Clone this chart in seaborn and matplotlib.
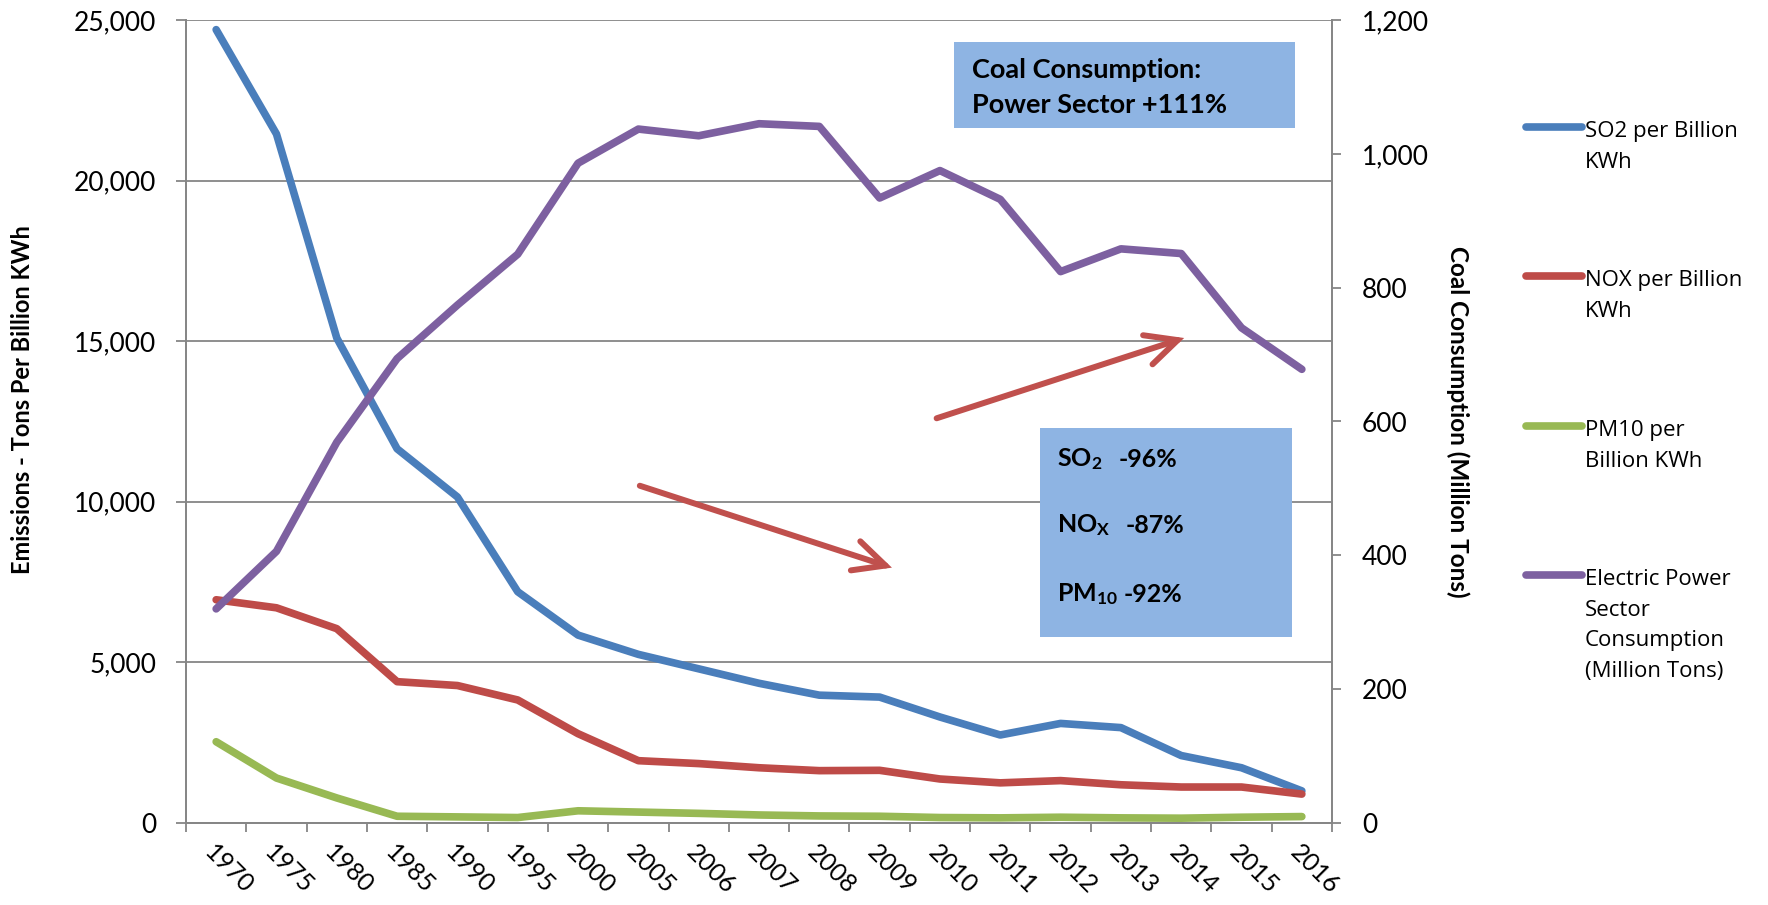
import matplotlib

matplotlib.use("Agg")
import matplotlib.pyplot as plt
from matplotlib.lines import Line2D
from matplotlib.patches import Rectangle
from matplotlib.ticker import FuncFormatter, MultipleLocator, FixedLocator
import pandas as pd
import seaborn as sns

YEARS = ["1970", "1975", "1980", "1985", "1990", "1995", "2000", "2005", "2006",
         "2007", "2008", "2009", "2010", "2011", "2012", "2013", "2014", "2015", "2016"]
SO2 = [24700, 21450, 15100, 11650, 10150, 7200, 5850, 5250, 4800, 4350, 3980,
       3920, 3300, 2740, 3100, 2970, 2100, 1720, 1000]
NOX = [6950, 6700, 6050, 4400, 4280, 3830, 2780, 1940, 1850, 1720, 1630, 1640,
       1370, 1250, 1320, 1190, 1120, 1120, 900]
PM10 = [2530, 1400, 780, 210, 190, 170, 380, 340, 300, 250, 220, 210, 170, 160,
        180, 160, 150, 180, 200]
COAL = [320, 406, 569, 694, 774, 850, 986, 1037, 1027, 1045, 1041, 934, 975,
        932, 824, 858, 851, 740, 678]

SERIES = ["SO2 per Billion\nKWh", "NOX per Billion\nKWh", "PM10 per\nBillion KWh"]
COAL_LABEL = "Electric Power\nSector\nConsumption\n(Million Tons)"
PALETTE = {SERIES[0]: "#4A7EBB", SERIES[1]: "#BE4B48", SERIES[2]: "#98B954"}
PURPLE = "#7D60A0"
GRID = "#868686"
ARROW = "#C0504D"
BOX = "#8EB4E3"

sns.set_theme(style="white")
plt.rcParams["font.family"] = ["Lato", "DejaVu Sans"]
plt.rcParams["mathtext.fontset"] = "custom"
plt.rcParams["mathtext.rm"] = "Lato"
plt.rcParams["mathtext.bf"] = "Lato:bold"
for k in ("text.color", "axes.labelcolor", "xtick.color", "ytick.color"):
    plt.rcParams[k] = "black"

pos = list(range(len(YEARS)))
df = pd.DataFrame({
    "pos": pos * 3,
    "value": SO2 + NOX + PM10,
    "series": sum([[s] * len(YEARS) for s in SERIES], []),
})
df_coal = pd.DataFrame({"pos": pos, "value": COAL})

fig = plt.figure(figsize=(17.68, 9.05), dpi=100)
ax = fig.add_axes([186 / 1768, 1 - 823 / 905, (1332 - 186) / 1768, (823 - 20) / 905])
ax2 = ax.twinx()

sns.lineplot(data=df, x="pos", y="value", hue="series", palette=PALETTE,
             lw=5.5, ax=ax, legend=False, solid_capstyle="round")
sns.lineplot(data=df_coal, x="pos", y="value", color=PURPLE, lw=5.5, ax=ax2,
             solid_capstyle="round")

# axes / ticks
ax.set_xlim(-0.5, len(YEARS) - 0.5)
ax.set_ylim(0, 25000)
ax2.set_ylim(0, 1200)
ax.yaxis.set_major_locator(MultipleLocator(5000))
ax2.yaxis.set_major_locator(MultipleLocator(200))
fmt = FuncFormatter(lambda v, p: f"{v:,.0f}")
ax.yaxis.set_major_formatter(fmt)
ax2.yaxis.set_major_formatter(fmt)

ax.set_xticks(pos)
ax.set_xticklabels(YEARS, rotation=-45, ha="left", rotation_mode="anchor")
ax.xaxis.set_minor_locator(FixedLocator([p - 0.5 for p in pos] + [len(YEARS) - 0.5]))
ax.tick_params(axis="x", which="major", length=0, pad=13, labelsize=18)
ax.tick_params(axis="x", which="minor", length=6.5, width=1.3, color=GRID,
               direction="out", bottom=True)
ax.tick_params(axis="y", length=7.5, width=1.3, color=GRID, direction="out",
               left=True, pad=14, labelsize=19)
ax2.tick_params(axis="y", length=6.5, width=1.3, color=GRID, direction="out",
                right=True, pad=15, labelsize=19)

ax.grid(axis="y", color=GRID, lw=1.3)
ax.grid(axis="x", visible=False)
ax2.grid(False)
for a in (ax, ax2):
    a.spines["top"].set_visible(False)
    for s in ("left", "right", "bottom"):
        a.spines[s].set_color(GRID)
        a.spines[s].set_linewidth(1.3)

ax.set_xlabel("")
ax.set_ylabel("Emissions - Tons Per Billion KWh", fontsize=17, fontweight="bold")
ax.yaxis.set_label_coords(-0.133, 0.527)
ax2.set_ylabel("Coal Consumption (Million Tons)", fontsize=17.5,
               fontweight="bold", rotation=270, va="center")
ax2.yaxis.set_label_coords(1.11, 0.499)

# annotation boxes
ax2.add_patch(Rectangle((0.670, 0.865), 0.298, 0.108, transform=ax.transAxes,
                        facecolor=BOX, edgecolor="none", zorder=3))
ax2.text(0.686, 0.938, "Coal Consumption:", transform=ax.transAxes,
         fontsize=19.5, fontweight="bold", va="center", zorder=4)
ax2.text(0.686, 0.894, "Power Sector +111%", transform=ax.transAxes,
         fontsize=19.5, fontweight="bold", va="center", zorder=4)

ax2.add_patch(Rectangle((0.745, 0.232), 0.220, 0.260, transform=ax.transAxes,
                        facecolor=BOX, edgecolor="none", zorder=3))
for lab, pct, y, xp in [(r"$\mathbf{SO_2}$", "-96%", 0.453, 0.814),
                        (r"$\mathbf{NO_X}$", "-87%", 0.371, 0.820),
                        (r"$\mathbf{PM_{10}}$", "-92%", 0.285, 0.818)]:
    ax2.text(0.760, y, lab, transform=ax.transAxes, fontsize=18,
             fontweight="bold", va="center", zorder=4)
    ax2.text(xp, y, pct, transform=ax.transAxes, fontsize=18,
             fontweight="bold", va="center", zorder=4)

arrow_style = dict(arrowstyle="->, head_length=1.13, head_width=0.55",
                   mutation_scale=20, color=ARROW, lw=4.3,
                   capstyle="round", joinstyle="miter", shrinkA=0, shrinkB=0)
ax2.annotate("", xy=(0.616, 0.318), xytext=(0.396, 0.420),
             xycoords=ax.transAxes, textcoords=ax.transAxes,
             arrowprops=arrow_style, zorder=4)
ax2.annotate("", xy=(0.871, 0.604), xytext=(0.655, 0.504),
             xycoords=ax.transAxes, textcoords=ax.transAxes,
             arrowprops=arrow_style, zorder=4)

# legend at the right, handle beside the first line of each label
leg_items = [(SERIES[0], PALETTE[SERIES[0]]), (SERIES[1], PALETTE[SERIES[1]]),
             (SERIES[2], PALETTE[SERIES[2]]), (COAL_LABEL, PURPLE)]
leg_y = [127, 276, 426, 575]
for (lab, col), yy in zip(leg_items, leg_y):
    yf = 1 - yy / 905
    fig.add_artist(Line2D([1526 / 1768, 1582 / 1768], [yf, yf], color=col,
                          lw=5.5, solid_capstyle="round",
                          transform=fig.transFigure))
    fig.text(1585 / 1768, yf + 6 / 905, lab, fontsize=16, va="top",
             family=["Open Sans", "DejaVu Sans"], linespacing=1.6)

fig.savefig("out.png", dpi=100)
plt.close(fig)
